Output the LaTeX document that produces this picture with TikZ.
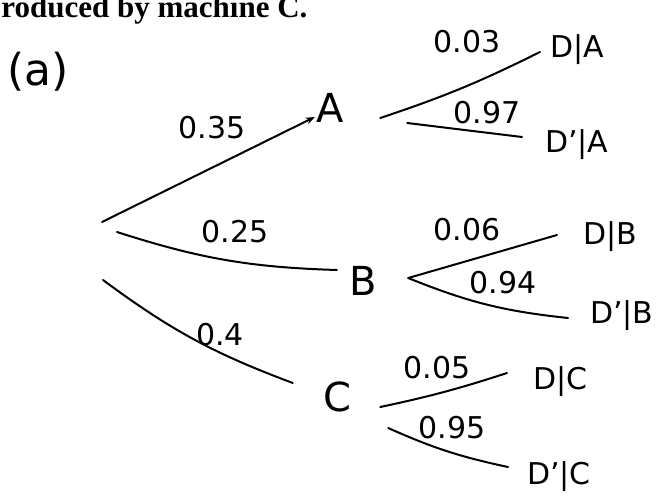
\documentclass[tikz,border=0pt]{standalone}
\usepackage{fontspec}
\setsansfont{DejaVu Sans}
\newfontfamily\printfont{Liberation Serif}
\usetikzlibrary{arrows.meta}

\begin{document}
\begin{tikzpicture}[
    x=1pt, y=-1pt,
    font=\sffamily,
    >={Stealth[length=9pt, width=7pt]},
    stage/.style={inner sep=0pt, minimum width=30pt, minimum height=34pt, font=\sffamily\fontsize{40}{44}\selectfont},
    outcome/.style={anchor=west, inner sep=0pt, font=\sffamily\fontsize{30}{34}\selectfont},
    prob/.style={inner sep=0pt, font=\sffamily\fontsize{30}{34}\selectfont},
    branch/.style={line width=2pt, line cap=round}
  ]
  \useasboundingbox (0,0) rectangle (658,503);

  % printed line of the question, cut at the top
  \node[anchor=base west, inner sep=0pt, font=\printfont\bfseries\fontsize{31}{34}\selectfont] (head) at (-16,18) {produced by machine C.};

  \node[font=\sffamily\fontsize{44}{48}\selectfont] (part) at (38,72) {(a)};

  % Root
  \coordinate (ra) at (102,222);
  \coordinate (rb) at (117,232);
  \coordinate (rc) at (103,280);

  % Machines
  \node[stage] (A) at (330,108) {A};
  \node[stage] (B) at (363,281) {B};
  \node[stage] (C) at (337,397) {C};

  % Outcomes
  \node[outcome] (DA) at (550,50) {D|A};
  \node[outcome] (NA) at (545,145) {D'|A};
  \node[outcome] (DB) at (583,237) {D|B};
  \node[outcome] (NB) at (590,316) {D'|B};
  \node[outcome] (DC) at (533,382) {D|C};
  \node[outcome] (NC) at (527,477) {D'|C};

  % First stage
  \draw[branch, ->] (ra) -- ([yshift=-9pt]A.west);
  \draw[branch] (rb) to[bend right=8] ([xshift=-11pt, yshift=11pt]B.west);
  \draw[branch] (rc) to[bend right=8] ([xshift=-29pt, yshift=14pt]C.west);

  % Second stage, A
  \draw[branch] ([xshift=35pt, yshift=-10pt]A.east) to[bend right=4] ([xshift=-10pt, yshift=-2pt]DA.west);
  \draw[branch] ([xshift=62pt, yshift=-15pt]A.east) -- ([xshift=-23pt, yshift=8pt]NA.west);

  % Second stage, B
  \draw[branch] ([xshift=30pt, yshift=3pt]B.east) -- ([xshift=-26pt, yshift=2pt]DB.west);
  \draw[branch] ([xshift=30pt, yshift=3pt]B.east) to[bend right=8] ([xshift=-22pt, yshift=-2pt]NB.west);

  % Second stage, C
  \draw[branch] ([xshift=28pt, yshift=-10pt]C.east) to[bend right=3] ([xshift=-26pt, yshift=9pt]DC.west);
  \draw[branch] ([xshift=36pt, yshift=-31pt]C.east) to[bend right=6] ([xshift=-19pt, yshift=10pt]NC.west);

  % Probabilities
  \node[prob] (pA) at (212,128) {0.35};
  \node[prob] (pB) at (235,232) {0.25};
  \node[prob] (pC) at (220,335) {0.4};
  \node[prob] (pDA) at (467,42) {0.03};
  \node[prob] (pNA) at (487,113) {0.97};
  \node[prob] (pDB) at (467,230) {0.06};
  \node[prob] (pNB) at (503,283) {0.94};
  \node[prob] (pDC) at (437,368) {0.05};
  \node[prob] (pNC) at (452,428) {0.95};

\end{tikzpicture}
\end{document}
